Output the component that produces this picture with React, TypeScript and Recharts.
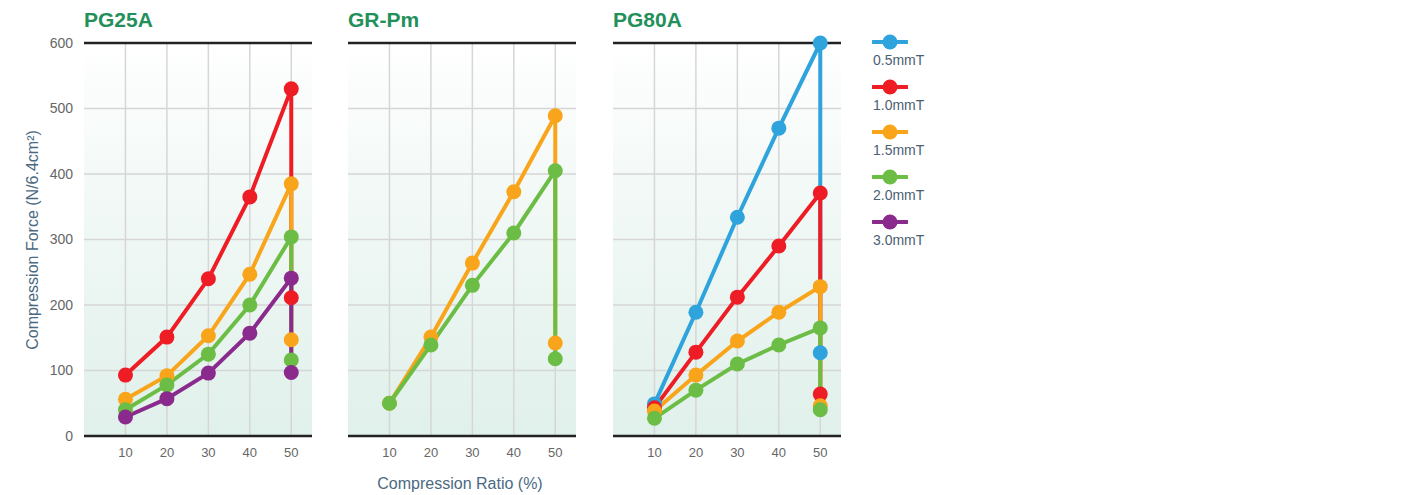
import React from "react";
import {
  CartesianGrid,
  Line,
  LineChart,
  ReferenceLine,
  XAxis,
  YAxis,
} from "recharts";

// compression ratio (%) — the last point repeats 50 (value after release)
const ratios = [10, 20, 30, 40, 50, 50];
const xTicks = [10, 20, 30, 40, 50];
const yTicks = [0, 100, 200, 300, 400, 500, 600];

const pg25a_10 = [93, 151, 240, 365, 530, 211];
const pg25a_15 = [56, 92, 153, 247, 385, 147];
const pg25a_20 = [40, 78, 125, 200, 304, 116];
const pg25a_30 = [29, 57, 96, 157, 241, 97];

const grpm_15 = [50, 151, 264, 373, 489, 142];
const grpm_20 = [50, 139, 230, 310, 405, 118];

const pg80a_05 = [49, 189, 334, 470, 600, 127];
const pg80a_10 = [43, 128, 212, 290, 371, 64];
const pg80a_15 = [38, 93, 145, 189, 228, 46];
const pg80a_20 = [27, 70, 110, 139, 165, 40];

const thicknesses = ["0.5mmT", "1.0mmT", "1.5mmT", "2.0mmT", "3.0mmT"];
const colors: Record<string, string> = {
  "0.5mmT": "#2ea3dc",
  "1.0mmT": "#ee1d25",
  "1.5mmT": "#f9a51b",
  "2.0mmT": "#6cbd45",
  "3.0mmT": "#8b2a8d",
};

type Series = { name: string; values: number[] };

const panels: { title: string; series: Series[] }[] = [
  {
    title: "PG25A",
    series: [
      { name: "1.0mmT", values: pg25a_10 },
      { name: "1.5mmT", values: pg25a_15 },
      { name: "2.0mmT", values: pg25a_20 },
      { name: "3.0mmT", values: pg25a_30 },
    ],
  },
  {
    title: "GR-Pm",
    series: [
      { name: "1.5mmT", values: grpm_15 },
      { name: "2.0mmT", values: grpm_20 },
    ],
  },
  {
    title: "PG80A",
    series: [
      { name: "0.5mmT", values: pg80a_05 },
      { name: "1.0mmT", values: pg80a_10 },
      { name: "1.5mmT", values: pg80a_15 },
      { name: "2.0mmT", values: pg80a_20 },
    ],
  },
];

const toPoints = (values: number[]) => values.map((v, i) => ({ x: ratios[i], y: v }));

const FONT = '"Liberation Sans", Arial, Helvetica, sans-serif';
const PLOT_W = 228;
const CHART_H = 470;
const AXIS_COLOR = "#222";

// vertical grid lines only at the x ticks (no lines on the plot edges)
const verticalAtTicks = (props: any) => {
  const sc = props.xAxis && props.xAxis.scale;
  if (!sc) return [];
  return xTicks.map((t) => (typeof sc === "function" ? sc(t) : sc.map(t)));
};

function Panel({ idx, left, withY }: { idx: number; left: number; withY: boolean }) {
  const p = panels[idx];
  const yw = withY ? 84 : 0;
  const width = yw + PLOT_W + 19;
  const gid = `bg${idx}`;
  return (
    <div style={{ position: "absolute", left, top: 0 }}>
      <div
        style={{
          position: "absolute",
          left: yw,
          top: 8,
          fontFamily: FONT,
          fontWeight: "bold",
          fontSize: 21,
          color: "#23905b",
          whiteSpace: "nowrap",
        }}
      >
        {p.title}
      </div>
      <LineChart
        width={width}
        height={CHART_H}
        margin={{ top: 43, right: 19, left: 0, bottom: 0 }}
      >
        <defs>
          <linearGradient id={gid} x1="0" y1="0" x2="0" y2="1">
            <stop offset="0%" stopColor="#ffffff" />
            <stop offset="10%" stopColor="#fbfdfc" />
            <stop offset="100%" stopColor="#e0f0ea" />
          </linearGradient>
        </defs>
        <CartesianGrid
          fill={`url(#${gid})`}
          fillOpacity={1}
          stroke="#d6d6d6"
          strokeWidth={1.5}
          verticalCoordinatesGenerator={verticalAtTicks}
        />
        <XAxis
          type="number"
          dataKey="x"
          domain={[0, 55]}
          ticks={xTicks}
          allowDuplicatedCategory
          height={34}
          tickLine={false}
          axisLine={{ stroke: AXIS_COLOR, strokeWidth: 2.5 }}
          tick={{ fill: "#666", fontSize: 13, fontFamily: FONT }}
          tickMargin={6}
        />
        <YAxis
          type="number"
          domain={[0, 600]}
          ticks={yTicks}
          hide={!withY}
          width={yw}
          tickLine={false}
          axisLine={false}
          tick={{ fill: "#666", fontSize: 14, fontFamily: FONT }}
          tickMargin={5}
        />
        <ReferenceLine y={600} stroke={AXIS_COLOR} strokeWidth={2.5} />
        {p.series.map((s) => (
          <Line
            key={s.name}
            data={toPoints(s.values)}
            dataKey="y"
            name={s.name}
            stroke={colors[s.name]}
            strokeWidth={4}
            dot={{ r: 7.5, fill: colors[s.name], stroke: "none" }}
            activeDot={false}
            isAnimationActive={false}
          />
        ))}
      </LineChart>
    </div>
  );
}

function LegendBox() {
  return (
    <div style={{ position: "absolute", left: 872, top: 34 }}>
      {thicknesses.map((t) => (
        <div key={t} style={{ height: 45 }}>
          <svg width={36} height={16} style={{ display: "block" }}>
            <line x1={1} y1={8} x2={35} y2={8} stroke={colors[t]} strokeWidth={4} strokeLinecap="round" />
            <circle cx={18} cy={8} r={7.5} fill={colors[t]} />
          </svg>
          <div style={{ fontFamily: FONT, fontSize: 14, color: "#4b6072", marginTop: 2, marginLeft: 1 }}>{t}</div>
        </div>
      ))}
    </div>
  );
}

export default function App() {
  return (
    <div
      style={{
        position: "absolute",
        left: 0,
        top: 0,
        width: 1420,
        height: 495,
        background: "#fff",
        fontFamily: FONT,
      }}
    >
      <Panel idx={0} left={0} withY />
      <Panel idx={1} left={348} withY={false} />
      <Panel idx={2} left={613} withY={false} />
      <div
        style={{
          position: "absolute",
          left: 33,
          top: 240,
          transform: "translate(-50%, -50%) rotate(-90deg)",
          fontSize: 16,
          color: "#4b6a82",
          whiteSpace: "nowrap",
        }}
      >
        Compression Force (N/6.4cm²)
      </div>
      <div
        style={{
          position: "absolute",
          left: 460,
          top: 484,
          transform: "translate(-50%, -50%)",
          fontSize: 16,
          color: "#4b6a82",
          whiteSpace: "nowrap",
        }}
      >
        Compression Ratio (%)
      </div>
      <LegendBox />
    </div>
  );
}
